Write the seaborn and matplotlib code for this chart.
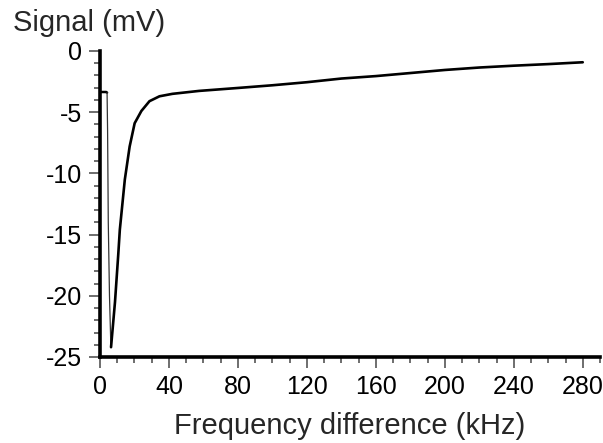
import matplotlib
matplotlib.use("Agg")
import matplotlib.pyplot as plt
import seaborn as sns
import numpy as np
import pandas as pd
from matplotlib.ticker import MultipleLocator

# Data
freq_khz = [0.5, 1, 2, 3, 3.6, 4.1, 4.4, 4.8, 5.5, 6.3, 6.4, 8.7, 10.6, 11.5,
            14.4, 17.2, 20.1, 24, 28.7, 34.5, 42, 57.5, 80, 100, 120,
            140, 160, 180, 200, 220, 240, 260, 280]
signal_mv = [-3.35, -3.35, -3.35, -3.35, -3.35, -3.4, -6.5, -14, -20, -24.1,
             -24.2, -20.5, -16.6, -14.6, -10.5, -7.8, -5.9, -4.9, -4.1, -3.7,
             -3.5, -3.26, -3.02, -2.8, -2.55, -2.25, -2.05, -1.8, -1.55,
             -1.35, -1.2, -1.07, -0.92]
xticks = [0, 40, 80, 120, 160, 200, 240, 280]
yticks = [0, -5, -10, -15, -20, -25]

sns.set_style("ticks")
plt.rcParams['font.family'] = ['Liberation Sans', 'DejaVu Sans']

df = pd.DataFrame({"f": freq_khz, "s": signal_mv})

fig = plt.figure(figsize=(6.03, 4.43), dpi=100)
ax = fig.add_axes([100/603, 1-357/443, 500/603, 306/443])

i_drop0, i_min = 5, 10
seg_a = df.iloc[:i_drop0+1]
seg_b = df.iloc[i_drop0:i_min+1]
seg_c = df.iloc[i_min:]
sns.lineplot(data=seg_a, x="f", y="s", color="black", lw=1.8, ax=ax, sort=False)
sns.lineplot(data=seg_b, x="f", y="s", color="#333333", lw=0.9, ax=ax, sort=False)
sns.lineplot(data=seg_c, x="f", y="s", color="black", lw=1.9, ax=ax, sort=False)

ax.set_xlim(0, 290)
ax.set_ylim(-25, 0)
ax.set_xticks(xticks)
ax.set_yticks(yticks)
ax.set_yticklabels([str(t) for t in yticks])
ax.xaxis.set_minor_locator(MultipleLocator(10))
ax.yaxis.set_minor_locator(MultipleLocator(1))
ax.tick_params(which="major", length=8, width=1.2, color="#555555",
               labelsize=18, labelcolor="black")
ax.tick_params(axis="x", which="major", pad=5)
ax.tick_params(axis="y", which="major", pad=5)
ax.tick_params(which="minor", length=4, width=1.2, color="#555555")

for side in ["top", "right"]:
    ax.spines[side].set_visible(False)
for side in ["left", "bottom"]:
    ax.spines[side].set_linewidth(2.6)
    ax.spines[side].set_color("black")

ax.set_xlabel("Frequency difference (kHz)", fontsize=21, labelpad=9)
ax.set_ylabel("")
fig.text(13/603, 1-9/443, "Signal (mV)", fontsize=21, va="top", ha="left")

fig.savefig("out.png", dpi=100)
